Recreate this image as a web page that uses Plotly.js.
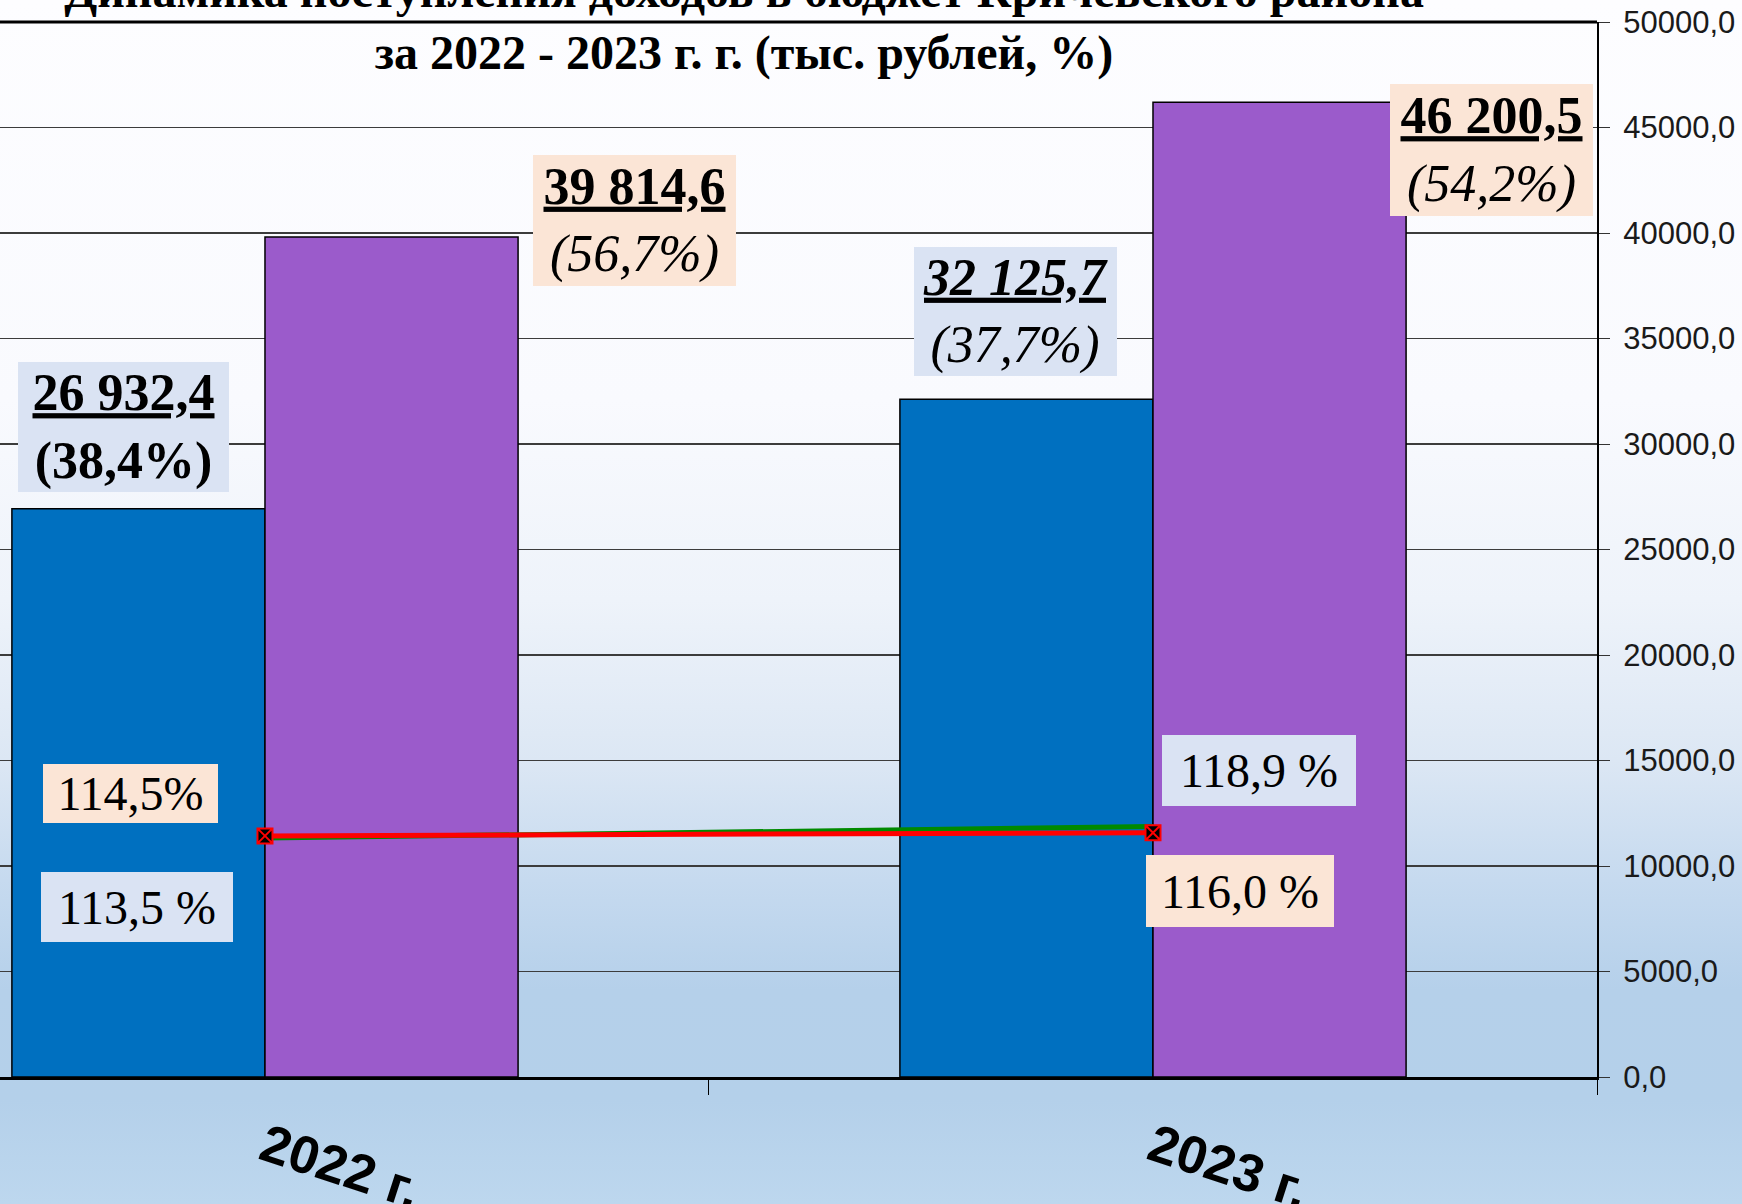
<!DOCTYPE html>
<html>
<head>
<meta charset="utf-8">
<script src="https://cdn.plot.ly/plotly-3.0.1.min.js"></script>
<style>
  html, body { margin:0; padding:0; }
  body {
    width:1742px; height:1204px; overflow:hidden;
    background: linear-gradient(to bottom, #fdfdff 0px, #f9fafe 400px, #eef3fa 600px, #dce7f4 760px, #c6daef 880px, #b5d0ea 990px, #b4d0ea 1100px, #bdd7ee 1204px);
  }
  #chart { width:1742px; height:1204px; }
</style>
</head>
<body>
<div id="chart"></div>
<script>
// ---- data ----
const categories = ['2022 г.', '2023 г.'];
const blueValues = [26932.4, 32125.7];
const purpleValues = [39814.6, 46200.5];
const blueShares = ['(38,4%)', '(37,7%)'];
const purpleShares = ['(56,7%)', '(54,2%)'];
const greenGrowth = [113.5, 118.9];
const redGrowth = [114.5, 116.0];
const greenLabels = ['113,5 %', '118,9 %'];
const redLabels = ['114,5%', '116,0 %'];
const yTicks = [0, 5000, 10000, 15000, 20000, 25000, 30000, 35000, 40000, 45000, 50000];
const titleLines = ['Динамика поступления доходов в бюджет Кричевского района', 'за 2022 - 2023 г. г. (тыс. рублей, %)'];

function fmt(v) {
  const parts = v.toFixed(1).split('.');
  const intPart = parts[0].replace(/\B(?=(\d{3})+(?!\d))/g, ' ');
  return intPart + ',' + parts[1];
}

const SERIF = '"Liberation Serif", "Times New Roman", serif';
const SANS = '"Liberation Sans", Arial, sans-serif';
const BLUEBOX = '#dae3f3';
const PEACH = '#fbe5d6';

// plot geometry helpers (pixel -> paper)
const PL = 0, PR = 1597, PT = 22, PB = 1077;
const px = x => (x - PL) / (PR - PL);
const py = y => (PB - y) / (PB - PT);

const traces = [
  {
    type: 'bar', x: categories, y: blueValues,
    marker: { color: '#0070c0', line: { color: '#000', width: 1.5 } },
    hoverinfo: 'none'
  },
  {
    type: 'bar', x: categories, y: purpleValues,
    marker: { color: '#9b5bcb', line: { color: '#000', width: 1.5 } },
    hoverinfo: 'none'
  },
  {
    type: 'scatter', mode: 'lines', x: categories, y: greenGrowth, yaxis: 'y2',
    line: { color: '#008a00', width: 5 }, hoverinfo: 'none'
  },
  {
    type: 'scatter', mode: 'lines+markers', x: categories, y: redGrowth, yaxis: 'y2',
    line: { color: '#ff0000', width: 5 },
    marker: { symbol: 'square-x', size: 15, color: '#000', line: { color: '#ff0000', width: 2 } },
    hoverinfo: 'none'
  }
];

const boxSpecs = [
  // [text, cx, cy, w, h, bg, size]
  ['<b><u>' + fmt(blueValues[0]) + '</u></b><br><b>' + blueShares[0] + '</b>', 123.5, 427, 211, 130, BLUEBOX, 52],
  ['<b><u>' + fmt(purpleValues[0]) + '</u></b><br><i>' + purpleShares[0] + '</i>', 634.5, 220.5, 203, 131, PEACH, 52],
  ['<b><i><u>' + fmt(blueValues[1]) + '</u></i></b><br><i>' + blueShares[1] + '</i>', 1015.5, 311.5, 203, 129, BLUEBOX, 52],
  ['<b><u>' + fmt(purpleValues[1]) + '</u></b><br><i>' + purpleShares[1] + '</i>', 1491.5, 150, 203, 132, PEACH, 52],
  [redLabels[0], 130.5, 793.5, 175, 59, PEACH, 48],
  [greenLabels[0], 137, 907, 192, 70, BLUEBOX, 48],
  [greenLabels[1], 1259, 770.5, 194, 71, BLUEBOX, 48],
  [redLabels[1], 1240, 891, 188, 72, PEACH, 48]
];

const annotations = boxSpecs.map(s => ({
  text: s[0], xref: 'paper', yref: 'paper', x: px(s[1]), y: py(s[2]),
  xanchor: 'center', yanchor: 'middle', showarrow: false,
  width: s[3], height: s[4], bgcolor: s[5], borderpad: 0, borderwidth: 0,
  align: 'center', valign: 'middle',
  font: { family: SERIF, size: s[6], color: '#000' }
}));

const layout = {
  width: 1742, height: 1204,
  margin: { l: 0, r: 145, t: 22, b: 127, pad: 0 },
  paper_bgcolor: 'rgba(0,0,0,0)',
  plot_bgcolor: 'rgba(0,0,0,0)',
  showlegend: false,
  barmode: 'group', bargap: 0.43, bargroupgap: 0,
  separators: ', ',
  title: {
    text: '<b>' + titleLines[0] + '<br>' + titleLines[1] + '</b>',
    font: { family: SERIF, size: 48, color: '#000' },
    xref: 'paper', x: px(744), xanchor: 'center',
    yref: 'container', y: 1 - 7 / 1204, yanchor: 'middle'
  },
  xaxis: {
    type: 'category', categoryorder: 'array', categoryarray: categories,
    range: [-0.2984, 1.5],
    tickson: 'boundaries', ticks: 'outside', ticklen: 15, tickcolor: '#000', tickwidth: 1,
    showline: true, linecolor: '#000', linewidth: 3,
    showgrid: false, zeroline: false,
    tickangle: 18,
    tickfont: { family: SANS, size: 53, color: '#000', weight: 'bold' },
    ticklabelstandoff: 16,
    fixedrange: true
  },
  yaxis: {
    side: 'right', range: [0, 50000],
    tickvals: yTicks, tickformat: '.1f',
    showline: true, linecolor: '#000', linewidth: 2,
    ticks: 'outside', ticklen: 11, tickcolor: '#333', tickwidth: 1,
    showgrid: true, gridcolor: '#3c3c3c', gridwidth: 1.2,
    zeroline: false,
    tickfont: { family: SANS, size: 31, color: '#1a1a1a' },
    ticklabelstandoff: 7,
    fixedrange: true
  },
  yaxis2: {
    overlaying: 'y', side: 'left', range: [0, 501], visible: false, fixedrange: true
  },
  shapes: [
    { type: 'line', xref: 'paper', yref: 'paper', x0: 0, x1: 1, y0: 1, y1: 1, line: { color: '#000', width: 3 }, layer: 'above' }
  ],
  annotations: annotations
};

Plotly.newPlot('chart', traces, layout, { displayModeBar: false, staticPlot: true });
</script>
</body>
</html>
